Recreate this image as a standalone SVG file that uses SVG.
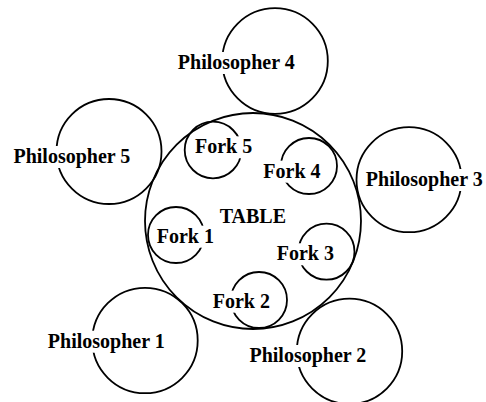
<svg xmlns="http://www.w3.org/2000/svg" width="486" height="402" viewBox="0 0 486 402">
  <style>
    .ring { fill: none; stroke: #000; stroke-width: 1.8; }
    .bg { fill: #fff; stroke: none; }
    .label { font-family: "Liberation Serif", "Times New Roman", serif; font-weight: bold; font-size: 20px; fill: #000; text-anchor: middle; }
  </style>
  <rect width="486" height="402" fill="#fff"/>

  <!-- table -->
  <g id="table">
    <circle class="ring" cx="253" cy="221" r="108"/>
    <rect class="bg" x="218" y="205.7" width="70" height="22"/>
    <text class="label" x="252.9" y="222.7">TABLE</text>
  </g>

  <!-- forks -->
  <g id="fork1">
    <circle class="ring" cx="176" cy="235" r="28"/>
    <rect class="bg" x="155.7" y="225.7" width="59" height="22"/>
    <text class="label" x="185.3" y="242.7">Fork 1</text>
  </g>
  <g id="fork2">
    <circle class="ring" cx="259" cy="300" r="28"/>
    <rect class="bg" x="211.7" y="290.7" width="59" height="22"/>
    <text class="label" x="241.3" y="307.7">Fork 2</text>
  </g>
  <g id="fork3">
    <circle class="ring" cx="326.5" cy="251.7" r="28"/>
    <rect class="bg" x="275.7" y="243.3" width="59" height="22"/>
    <text class="label" x="305.3" y="260.3">Fork 3</text>
  </g>
  <g id="fork4">
    <circle class="ring" cx="309" cy="166" r="28"/>
    <rect class="bg" x="262.3" y="160.7" width="59" height="22"/>
    <text class="label" x="291.9" y="177.7">Fork 4</text>
  </g>
  <g id="fork5">
    <circle class="ring" cx="213" cy="150" r="28.3"/>
    <rect class="bg" x="194" y="136.3" width="59" height="22"/>
    <text class="label" x="223.6" y="153.3">Fork 5</text>
  </g>

  <!-- philosophers -->
  <g id="philosopher1">
    <circle class="ring" cx="145" cy="340.5" r="52.7"/>
    <rect class="bg" x="46.7" y="330.7" width="119.2" height="22"/>
    <text class="label" x="106.3" y="347.7">Philosopher 1</text>
  </g>
  <g id="philosopher2">
    <circle class="ring" cx="349.5" cy="351.3" r="52.7"/>
    <rect class="bg" x="248.3" y="345" width="119.2" height="22"/>
    <text class="label" x="307.9" y="362">Philosopher 2</text>
  </g>
  <g id="philosopher3">
    <circle class="ring" cx="409" cy="179.7" r="52.5"/>
    <rect class="bg" x="364.7" y="169" width="119.2" height="22"/>
    <text class="label" x="424.3" y="186">Philosopher 3</text>
  </g>
  <g id="philosopher4">
    <circle class="ring" cx="275" cy="61" r="52.8"/>
    <rect class="bg" x="176.7" y="52" width="119.2" height="22"/>
    <text class="label" x="236.3" y="69">Philosopher 4</text>
  </g>
  <g id="philosopher5">
    <circle class="ring" cx="109" cy="151.5" r="52.5"/>
    <rect class="bg" x="12.3" y="146" width="119.2" height="22"/>
    <text class="label" x="71.9" y="163">Philosopher 5</text>
  </g>
</svg>
